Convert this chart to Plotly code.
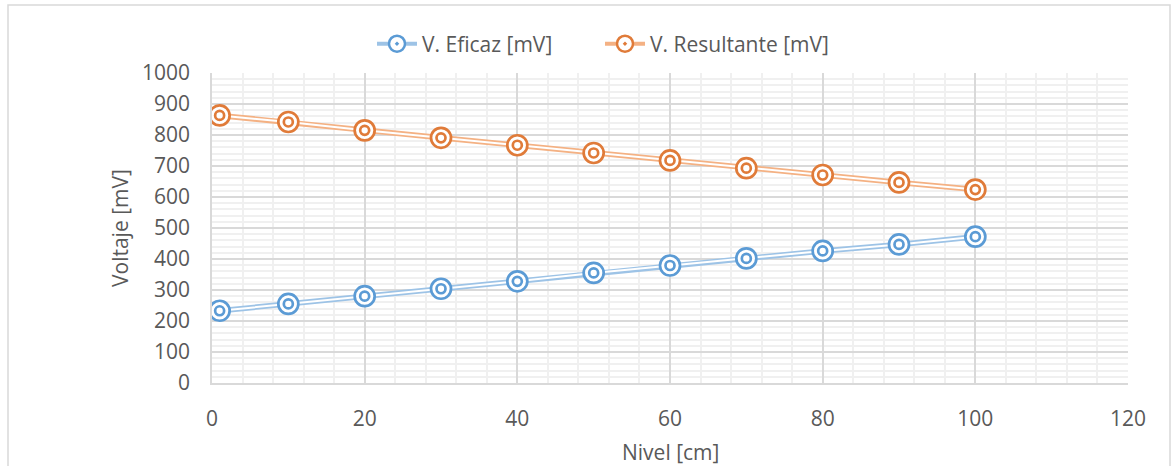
import plotly.graph_objects as go

nivel = [1, 10, 20, 30, 40, 50, 60, 70, 80, 90, 100]
v_eficaz = [233, 255, 280, 304, 328, 355, 379, 402, 426, 447, 472]
v_resultante = [863, 842, 815, 791, 767, 742, 718, 693, 671, 647, 624]
series_names = ["V. Eficaz [mV]", "V. Resultante [mV]"]
x_title = "Nivel [cm]"
y_title = "Voltaje [mV]"

FONT = "Open Sans"
TXT = "#595959"
FS = 21
series = [
    (series_names[0], v_eficaz, "#9DC3E6", "#5B9BD5"),
    (series_names[1], v_resultante, "#F4B183", "#E07B39"),
]

fig = go.Figure()
for name, ys, lc, mc in series:
    fig.add_trace(go.Scatter(x=nivel, y=ys, mode="lines", line=dict(color=lc, width=5.5),
                             showlegend=False, hoverinfo="skip"))
    fig.add_trace(go.Scatter(x=nivel, y=ys, mode="lines", line=dict(color="white", width=2),
                             showlegend=False, hoverinfo="skip"))
    fig.add_trace(go.Scatter(x=nivel, y=ys, mode="markers",
                             marker=dict(symbol="circle", size=20, color="white",
                                         line=dict(color=mc, width=2.7)),
                             showlegend=False, name=name))
    fig.add_trace(go.Scatter(x=nivel, y=ys, mode="markers",
                             marker=dict(symbol="circle-open", size=9, color=mc,
                                         line=dict(color=mc, width=2.7)),
                             showlegend=False, hoverinfo="skip"))
for name, ys, lc, mc in series:
    fig.add_trace(go.Scatter(x=[None], y=[None], mode="lines+markers", name=name,
                             line=dict(color=lc, width=4),
                             marker=dict(symbol="circle-dot", size=17, color="white",
                                         line=dict(color=mc, width=2.5))))

fig.update_layout(
    width=1172, height=466,
    margin=dict(l=212, r=44, t=73, b=83, autoexpand=False),
    paper_bgcolor="white", plot_bgcolor="white",
    font=dict(family=FONT, size=FS, color=TXT),
    showlegend=True,
    legend=dict(orientation="h", xref="container", yref="container",
                x=372 / 1172, y=1 - 44 / 466, xanchor="left", yanchor="middle",
                font=dict(size=FS, color=TXT), itemwidth=40, entrywidth=173,
                bgcolor="rgba(0,0,0,0)"),
    xaxis=dict(range=[0, 120], dtick=20, tick0=0, showgrid=True, gridcolor="#D9D9D9", gridwidth=1.5,
               minor=dict(dtick=4, showgrid=True, gridcolor="#F0F0F0", gridwidth=1.5),
               showline=True, linecolor="#D9D9D9", linewidth=1.5, zeroline=False,
               ticks="", ticklabelstandoff=16, tickfont=dict(size=FS, color=TXT)),
    yaxis=dict(range=[0, 1000], dtick=100, tick0=0, showgrid=True, gridcolor="#D9D9D9", gridwidth=1.5,
               minor=dict(dtick=20, showgrid=True, gridcolor="#F0F0F0", gridwidth=1.5),
               showline=True, linecolor="#D9D9D9", linewidth=1.5, zeroline=False,
               ticks="", ticklabelstandoff=16, tickfont=dict(size=FS, color=TXT)),
    annotations=[
        dict(text=x_title, xref="paper", yref="paper", x=(670 - 212) / 916, y=(383 - 452) / 310,
             showarrow=False, xanchor="center", yanchor="middle", font=dict(size=FS, color=TXT)),
        dict(text=y_title, xref="paper", yref="paper", x=(120 - 212) / 916, y=(383 - 228) / 310,
             showarrow=False, xanchor="center", yanchor="middle", textangle=-90,
             font=dict(size=FS, color=TXT)),
    ],
    shapes=[dict(type="rect", xref="paper", yref="paper",
                 x0=(8 - 212) / 916, x1=(1170 - 212) / 916,
                 y0=(383 - 475) / 310, y1=(383 - 5) / 310,
                 line=dict(color="#D9D9D9", width=1.5), fillcolor="rgba(0,0,0,0)", layer="below")],
)

fig.write_html("out.html")
